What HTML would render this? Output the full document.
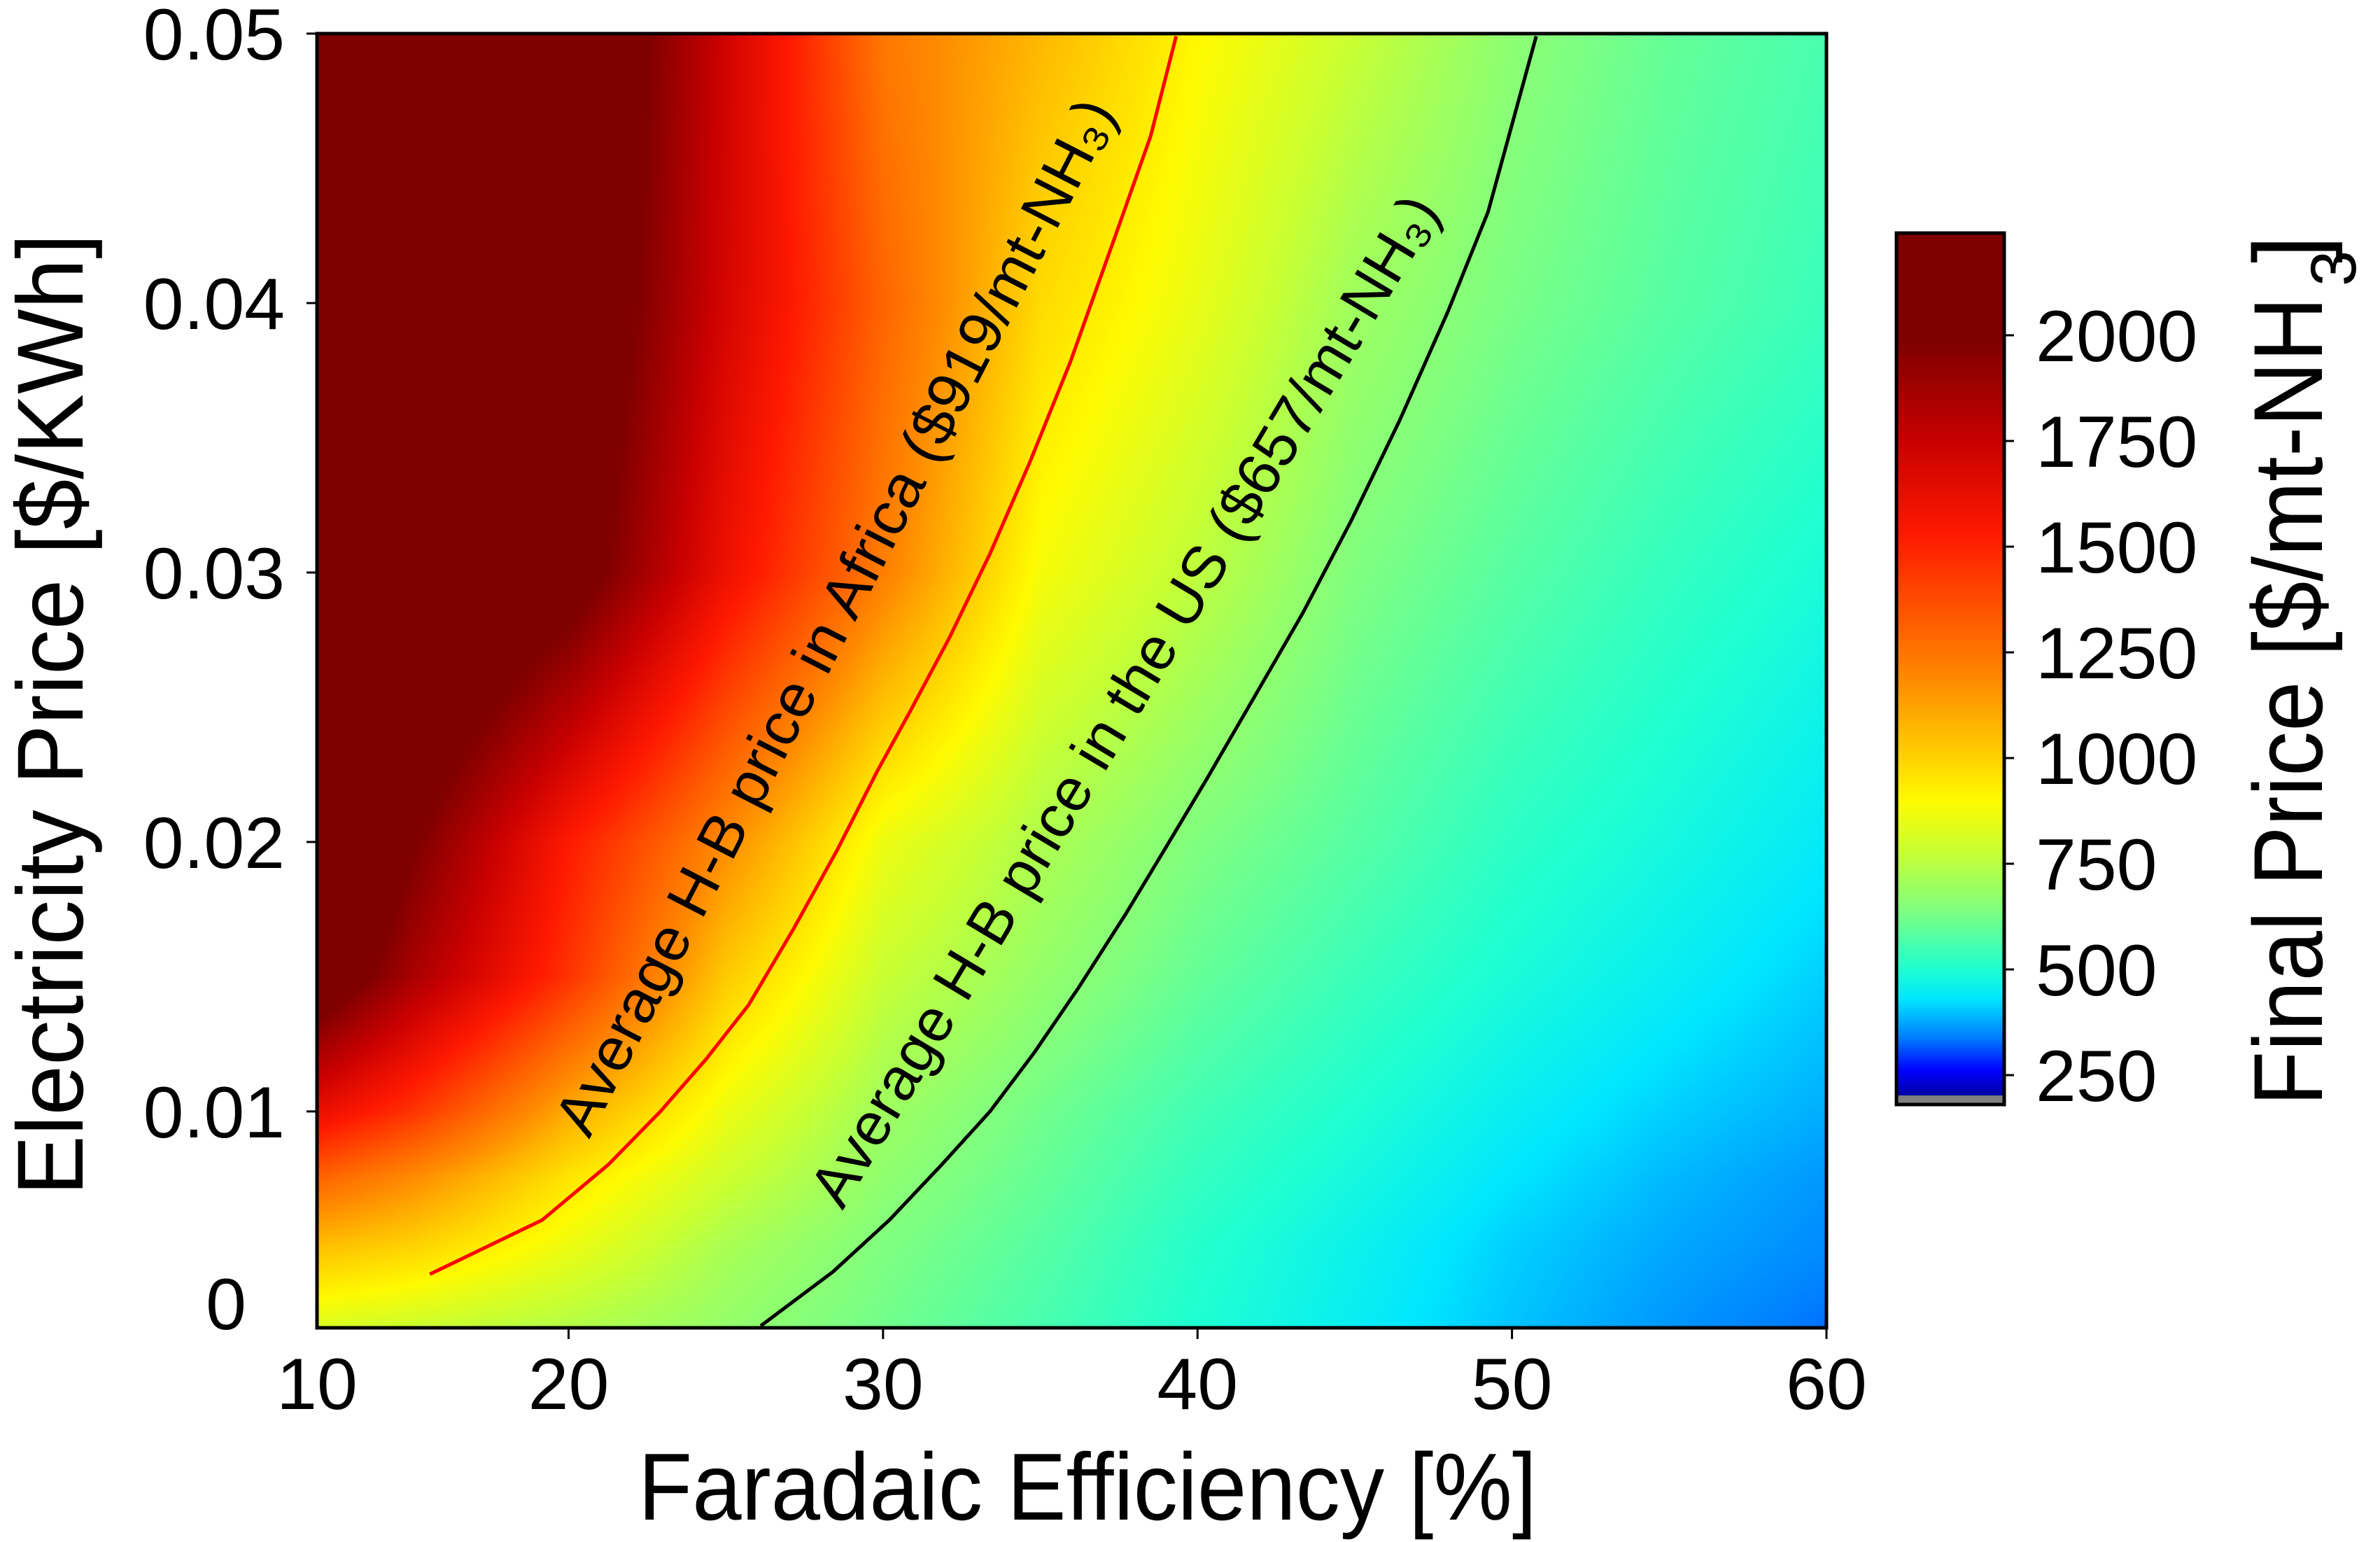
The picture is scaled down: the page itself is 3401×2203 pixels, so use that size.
<!DOCTYPE html>
<html><head><meta charset="utf-8">
<style>
html,body{margin:0;padding:0;background:#fff;}
#wrap{position:relative;width:3401px;height:2203px;overflow:hidden;background:#fff;}
canvas{position:absolute;}
svg{position:absolute;left:0;top:0;}
text{font-family:"Liberation Sans","DejaVu Sans",sans-serif;fill:#000;}
</style></head>
<body>
<div id="wrap">
<canvas id="heat" width="2157" height="1849" style="left:453px;top:48px;"></canvas>
<canvas id="cbar" width="154" height="1245" style="left:2710px;top:333px;"></canvas>
<svg id="svg" width="3401" height="2203"></svg>
</div>
<script>
// ---- data ----
const feGrid = [12, 15, 20, 25, 30, 35, 40, 45, 50, 55, 60];
const eGrid = [0.002, 0.005, 0.0075, 0.01, 0.015, 0.02, 0.03, 0.04, 0.05];
const priceRow0 = [820, 790, 740, 680, 620, 560, 500, 450, 400, 360, 330];
const priceRow1 = [1050, 1000, 860, 720, 640, 580, 510, 460, 410, 375, 350];
const priceRow2 = [1300, 1180, 950, 790, 670, 600, 530, 480, 430, 390, 360];
const priceRow3 = [1620, 1450, 1100, 860, 700, 620, 550, 500, 450, 410, 380];
const priceRow4 = [2150, 1850, 1450, 1020, 780, 680, 600, 540, 490, 450, 410];
const priceRow5 = [2400, 2000, 1530, 1180, 860, 730, 640, 580, 520, 480, 440];
const priceRow6 = [2400, 2350, 2100, 1600, 1220, 880, 760, 640, 580, 530, 490];
const priceRow7 = [2400, 2400, 2200, 1700, 1300, 980, 850, 700, 630, 580, 540];
const priceRow8 = [2400, 2400, 2250, 1720, 1240, 1070, 905, 780, 665, 600, 560];
const priceRows = [priceRow0, priceRow1, priceRow2, priceRow3, priceRow4, priceRow5, priceRow6, priceRow7, priceRow8];

const africaFE = [15.59, 19.16, 21.26, 22.92, 24.38, 25.73, 27.14, 28.54, 29.82, 30.84, 32.12, 33.40, 34.67, 35.95, 37.48, 38.51, 39.32];
const africaE = [0.00396, 0.00597, 0.00802, 0.0100, 0.01195, 0.01396, 0.01675, 0.0197, 0.02264, 0.0248, 0.0276, 0.0307, 0.0341, 0.0378, 0.0428, 0.0462, 0.0499];
const usFE = [26.11, 28.41, 30.20, 31.86, 33.40, 34.80, 36.21, 37.74, 39.02, 40.29, 41.83, 43.36, 44.89, 46.43, 47.96, 49.24, 50.77];
const usE = [0.00204, 0.00405, 0.00597, 0.00802, 0.0100, 0.01217, 0.01458, 0.01737, 0.01985, 0.02233, 0.02543, 0.02852, 0.03193, 0.03565, 0.03968, 0.04339, 0.0499];

const xTicks = [20, 30, 40, 50, 60];
const xTickLabels = ["20", "30", "40", "50", "60"];
const yTicks = [0.01, 0.02, 0.03, 0.04, 0.05];
const yTickLabels = ["0.01", "0.02", "0.03", "0.04", "0.05"];
const cbTicks = [250, 500, 750, 1000, 1250, 1500, 1750, 2000];
const cbTickLabels = ["250", "500", "750", "1000", "1250", "1500", "1750", "2000"];
const cmapVals = [180, 260, 340, 430, 500, 640, 780, 900, 1180, 1530, 1750, 1980];
const cmapCols = [[0,0,128],[0,0,255],[0,128,255],[0,230,255],[30,255,210],[128,255,128],[200,255,50],[255,250,0],[255,140,0],[255,25,0],[200,0,0],[128,0,0]];

// ---- scales ----
const X0 = 453, X1 = 2610, Y0 = 1897, Y1 = 48;
const feMin = 12, feMax = 60, eMin = 0.00197, eMax = 0.05;
function sx(v){ return X0 + (v - feMin) / (feMax - feMin) * (X1 - X0); }
function sy(v){ return Y0 - (v - eMin) / (eMax - eMin) * (Y0 - Y1); }
const CB_TOP = 333, CB_BOT = 1578, CB_GRAY = 1565;
function cby(v){ return 479 + (2000 - v) / 250 * 151; }

function cmap(v){
  if (v <= cmapVals[0]) return cmapCols[0];
  for (let i = 1; i < cmapVals.length; i++){
    if (v <= cmapVals[i]){
      const t = (v - cmapVals[i-1]) / (cmapVals[i] - cmapVals[i-1]);
      const a = cmapCols[i-1], b = cmapCols[i];
      return [a[0]+(b[0]-a[0])*t, a[1]+(b[1]-a[1])*t, a[2]+(b[2]-a[2])*t];
    }
  }
  return cmapCols[cmapCols.length-1];
}
function locate(arr, v){
  let i = 0;
  while (i < arr.length - 2 && v > arr[i+1]) i++;
  let t = (v - arr[i]) / (arr[i+1] - arr[i]);
  t = Math.max(0, Math.min(1, t));
  return [i, t];
}

// ---- heatmap ----
(function(){
  const c = document.getElementById('heat'), ctx = c.getContext('2d');
  const W = c.width, H = c.height, img = ctx.createImageData(W, H), d = img.data;
  const colIdx = [], rowIdx = [];
  for (let px = 0; px < W; px++){
    const fe = feMin + (px + 0.5) / W * (feMax - feMin);
    colIdx.push(locate(feGrid, fe));
  }
  for (let py = 0; py < H; py++){
    const e = eMax - (py + 0.5) / H * (eMax - eMin);
    rowIdx.push(locate(eGrid, e));
  }
  for (let py = 0; py < H; py++){
    const [j, u] = rowIdx[py];
    const ra = priceRows[j], rb = priceRows[j+1];
    for (let px = 0; px < W; px++){
      const [i, t] = colIdx[px];
      const va = ra[i] + (ra[i+1] - ra[i]) * t;
      const vb = rb[i] + (rb[i+1] - rb[i]) * t;
      const col = cmap(va + (vb - va) * u);
      const k = (py * W + px) * 4;
      d[k] = col[0]; d[k+1] = col[1]; d[k+2] = col[2]; d[k+3] = 255;
    }
  }
  ctx.putImageData(img, 0, 0);
})();

// ---- colorbar gradient ----
(function(){
  const c = document.getElementById('cbar'), ctx = c.getContext('2d');
  for (let py = 0; py < c.height; py++){
    const y = CB_TOP + py + 0.5;
    let col;
    if (y >= CB_GRAY) col = [128,128,128];
    else col = cmap(2000 - (y - 479) / 151 * 250);
    ctx.fillStyle = 'rgb(' + Math.round(col[0]) + ',' + Math.round(col[1]) + ',' + Math.round(col[2]) + ')';
    ctx.fillRect(0, py, c.width, 1);
  }
})();

// ---- overlay ----
const NS = 'http://www.w3.org/2000/svg';
const svg = document.getElementById('svg');
function mk(tag, attrs, parent){
  const el = document.createElementNS(NS, tag);
  for (const k in attrs) el.setAttribute(k, attrs[k]);
  (parent || svg).appendChild(el);
  return el;
}

// contour lines
let pts = africaFE.map((f, i) => sx(f).toFixed(1) + ',' + sy(africaE[i]).toFixed(1)).join(' ');
let line = mk('polyline', {points: pts, fill: 'none', stroke: '#ff0000', 'stroke-width': 5, 'stroke-linejoin': 'round'});


pts = usFE.map((f, i) => sx(f).toFixed(1) + ',' + sy(usE[i]).toFixed(1)).join(' ');
line = mk('polyline', {points: pts, fill: 'none', stroke: '#000', 'stroke-width': 5, 'stroke-linejoin': 'round'});



// annotations
let t = mk('text', {x: 842, y: 1628, 'font-size': 86, transform: 'rotate(-62.8 842 1628)', textLength: 1650, lengthAdjust: 'spacingAndGlyphs'});
t.textContent = 'Average H-B price in Africa ($919/mt-NH\u2083)';


t = mk('text', {x: 1204, y: 1730, 'font-size': 86, transform: 'rotate(-59.1 1204 1730)', textLength: 1665, lengthAdjust: 'spacingAndGlyphs'});
t.textContent = 'Average H-B price in the US ($657/mt-NH\u2083)';



// frame
let fr = mk('rect', {x: X0, y: Y1, width: X1 - X0, height: Y0 - Y1, fill: 'none', stroke: '#000', 'stroke-width': 5});



// x ticks
xTicks.forEach((v, i) => {
  const x = sx(v);
  const tk = mk('line', {x1: x, y1: Y0, x2: x, y2: Y0 + 16, stroke: '#000', 'stroke-width': 3});
  
  
  const lb = mk('text', {x: x, y: 2013, 'font-size': 104, 'text-anchor': 'middle'});
  lb.textContent = xTickLabels[i];
  
  
});
let lb0 = mk('text', {x: X0, y: 2013, 'font-size': 104, 'text-anchor': 'middle'});
lb0.textContent = '10';



// y ticks
yTicks.forEach((v, i) => {
  const y = sy(v);
  const tk = mk('line', {x1: X0 - 15, y1: y, x2: X0, y2: y, stroke: '#000', 'stroke-width': 3});
  
  
  const lb = mk('text', {x: 407, y: y + 37, 'font-size': 104, 'text-anchor': 'end'});
  lb.textContent = yTickLabels[i];
  
  
});
let ly0 = mk('text', {x: 352, y: 1899, 'font-size': 104, 'text-anchor': 'end'});
ly0.textContent = '0';



// axis titles
t = mk('text', {x: 912, y: 2171, 'font-size': 136, textLength: 1284, lengthAdjust: 'spacingAndGlyphs'});
t.textContent = 'Faradaic Efficiency [%]';


t = mk('text', {x: 118, y: 1708, 'font-size': 134, transform: 'rotate(-90 118 1708)', textLength: 1374, lengthAdjust: 'spacingAndGlyphs'});
t.textContent = 'Electricity Price [$/KWh]';



// colorbar frame & ticks
fr = mk('rect', {x: 2710, y: CB_TOP, width: 154, height: CB_BOT - CB_TOP, fill: 'none', stroke: '#000', 'stroke-width': 5});


cbTicks.forEach((v, i) => {
  const y = cby(v);
  const tk = mk('line', {x1: 2864, y1: y, x2: 2878, y2: y, stroke: '#000', 'stroke-width': 3});
  
  
  const lb = mk('text', {x: 2909, y: y + 37, 'font-size': 104});
  lb.textContent = cbTickLabels[i];
  
  
});
// colorbar title
t = mk('text', {x: 3318, y: 1580, 'font-size': 140, transform: 'rotate(-90 3318 1580)', textLength: 1156, lengthAdjust: 'spacingAndGlyphs'});
t.textContent = 'Final Price [$/mt-NH';


t = mk('text', {x: 3366, y: 409, 'font-size': 92, transform: 'rotate(-90 3366 409)'});
t.textContent = '3';


t = mk('text', {x: 3318, y: 376, 'font-size': 140, transform: 'rotate(-90 3318 376)', textLength: 40, lengthAdjust: 'spacingAndGlyphs'});
t.textContent = ']';


</script>
</body></html>
